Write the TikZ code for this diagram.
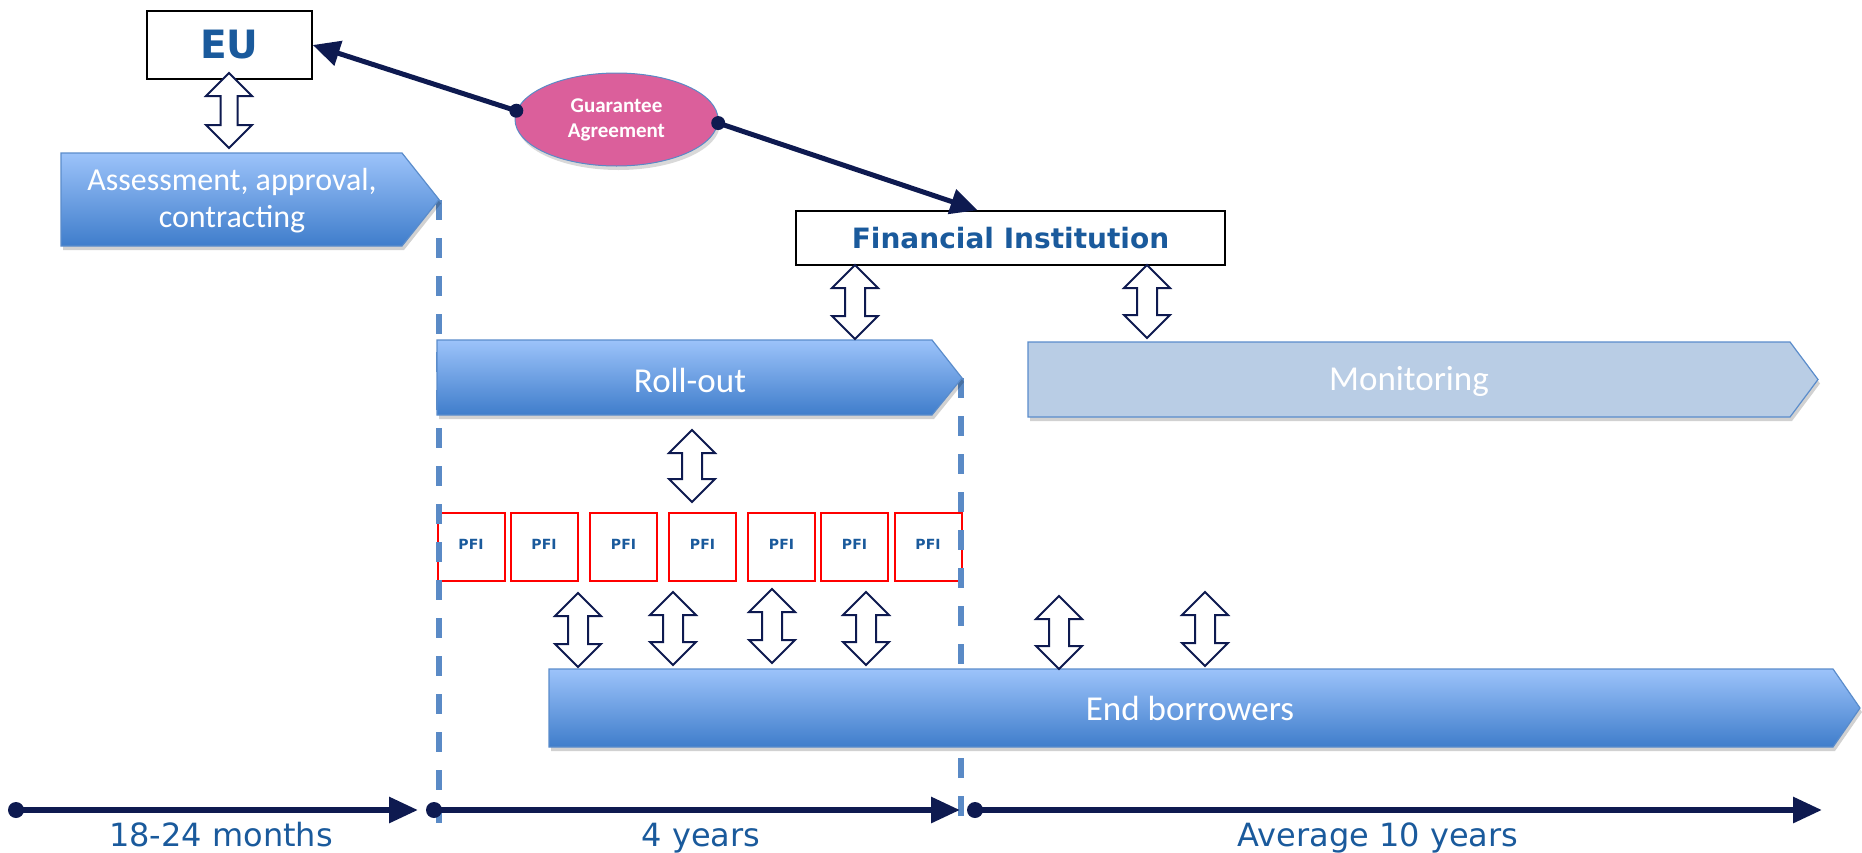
\documentclass[tikz,border=0pt]{standalone}
\usepackage{fontspec}
\setmainfont{Carlito}
\newfontfamily\verd{DejaVu Sans}
\usetikzlibrary{arrows.meta,shapes.geometric,calc}
\definecolor{navy}{HTML}{0E1A50}
\definecolor{txtblue}{HTML}{1A5A9C}
\definecolor{dashblue}{HTML}{5A8AC6}
\definecolor{chevtop}{HTML}{9CC3FA}
\definecolor{chevbot}{HTML}{3F7DCB}
\definecolor{chevedge}{HTML}{5A8CCB}
\definecolor{monfill}{HTML}{B9CDE5}
\definecolor{gapink}{HTML}{DB5F9B}
\newcommand{\dblud}[4][10]{%
  \draw[dbl] (#2,#3) -- (#2+23,#3+23) -- (#2+#1,#3+23) -- (#2+#1,#4-23) -- (#2+23,#4-23) -- (#2,#4)
    -- (#2-23,#4-23) -- (#2-#1,#4-23) -- (#2-#1,#3+23) -- (#2-23,#3+23) -- cycle;}
\begin{document}
\begin{tikzpicture}[x=1pt,y=-1pt,
  chev/.style={top color=chevtop, bottom color=chevbot, draw=chevedge, line width=1.2pt},
  monchev/.style={fill=monfill, draw=chevedge, line width=1.2pt},
  shadowed/.style={fill=black, opacity=0.18, xshift=2pt, yshift=-4pt},
  phase/.style={text=white, align=center, inner sep=0pt, font=\fontsize{35}{40}\selectfont},
  whitebox/.style={draw=black, line width=1.5pt, fill=white, inner sep=0pt, text=txtblue},
  pfibox/.style={draw=red, line width=2pt, fill=white, inner sep=0pt, minimum width=67pt, minimum height=68pt,
    text=txtblue, font=\verd\bfseries\fontsize{14}{16}\selectfont},
  dbl/.style={draw=navy, line width=2pt, fill=white, line join=miter},
  conn/.style={draw=navy, line width=5pt, -{Triangle[length=27pt,width=25pt]}},
  tline/.style={draw=navy, line width=6pt, -{Triangle[length=29pt,width=25pt]}},
  dashline/.style={draw=dashblue, line width=6pt, dash pattern=on 20pt off 18pt},
  tlabel/.style={anchor=base, inner sep=0pt, text=txtblue, font=\verd\fontsize{32}{36}\selectfont}]
\useasboundingbox (0,0) rectangle (1862,852);

% PFI boxes
\node[pfibox] (p1) at (471,547) {\raisebox{5pt}{PFI}};
\node[pfibox] (p2) at (544,547) {\raisebox{5pt}{PFI}};
\node[pfibox] (p3) at (623.5,547) {\raisebox{5pt}{PFI}};
\node[pfibox] (p4) at (702.5,547) {\raisebox{5pt}{PFI}};
\node[pfibox] (p5) at (781.5,547) {\raisebox{5pt}{PFI}};
\node[pfibox] (p6) at (854.5,547) {\raisebox{5pt}{PFI}};
\node[pfibox] (p7) at (928,547) {\raisebox{5pt}{PFI}};

% dashed phase separators
\coordinate (d1a) at (439,200); \coordinate (d1b) at (439,823);
\coordinate (d2a) at (961,378); \coordinate (d2b) at (961,823);
\draw[dashline] (d1a) -- (d1b);
\draw[dashline] (d2a) -- (d2b);

% chevrons
\path[shadowed] (61,153) -- (402,153) -- (439,199.5) -- (402,246) -- (61,246) -- cycle;
\path[chev] (61,153) -- (402,153) -- (439,199.5) -- (402,246) -- (61,246) -- cycle;
\path[shadowed] (437,340) -- (932,340) -- (962,378) -- (932,415) -- (437,415) -- cycle;
\path[chev] (437,340) -- (932,340) -- (962,378) -- (932,415) -- (437,415) -- cycle;
\path[shadowed] (1028,342) -- (1790,342) -- (1818,379.5) -- (1790,417) -- (1028,417) -- cycle;
\path[monchev] (1028,342) -- (1790,342) -- (1818,379.5) -- (1790,417) -- (1028,417) -- cycle;
\path[shadowed] (549,669) -- (1833,669) -- (1860,708) -- (1833,747) -- (549,747) -- cycle;
\path[chev] (549,669) -- (1833,669) -- (1860,708) -- (1833,747) -- (549,747) -- cycle;

\node[phase, font=\fontsize{32}{37}\selectfont] (assess) at (232,201) {Assessment, approval,\\contracting};
\node[phase] (roll) at (690,380) {Roll-out};
\node[phase] (mon) at (1409,381) {Monitoring};
\node[phase] (endb) at (1190,708) {End borrowers};

% actor boxes
\node[whitebox, minimum width=165pt, minimum height=68pt, font=\verd\bfseries\fontsize{39}{44}\selectfont] (eu) at (229.5,45) {EU};
\node[whitebox, minimum width=429pt, minimum height=54pt, font=\verd\bfseries\fontsize{28}{32}\selectfont] (fi) at (1010.5,238) {Financial Institution};

% guarantee agreement
\node[ellipse, fill=black, opacity=0.15, minimum width=203pt, minimum height=93pt, inner sep=0pt] at (618.5,123.5) {};
\node[ellipse, fill=gapink, draw=dashblue, line width=1pt, minimum width=203pt, minimum height=93pt, inner sep=0pt,
  align=center, text=white, font=\bfseries\fontsize{21}{25}\selectfont] (ga) at (616.5,119.5) {Guarantee\\Agreement};
\draw[conn] (ga.175) -- (eu.east);
\draw[conn] (ga.-2) -- ($(fi.north)+(-33,0)$);
\fill[navy] (ga.175) circle[radius=7pt];
\fill[navy] (ga.-2) circle[radius=7pt];

% two-way arrows
\dblud[8.5]{229}{73}{148}
\dblud{855}{265}{339}
\dblud{1147}{265}{338}
\dblud{692}{430}{502}
\dblud{578}{593}{667}
\dblud{673}{592}{665}
\dblud{772}{589}{663}
\dblud{866}{592}{665}
\dblud{1059}{596}{669}
\dblud{1205}{592}{666}

% timeline
\coordinate (t0) at (16,810); \coordinate (t1) at (418,810);
\coordinate (t2) at (434,810); \coordinate (t3) at (960,810);
\coordinate (t4) at (975,810); \coordinate (t5) at (1822,810);
\draw[tline] (t0) -- (t1);
\draw[tline] (t2) -- (t3);
\draw[tline] (t4) -- (t5);
\fill[navy] (t0) circle[radius=8pt];
\fill[navy] (t2) circle[radius=8pt];
\fill[navy] (t4) circle[radius=8pt];
\node[tlabel] (l1) at (221,846) {18-24 months};
\node[tlabel] (l2) at (701,846) {4 years};
\node[tlabel] (l3) at (1378,846) {Average 10 years};
\end{tikzpicture}
\end{document}
